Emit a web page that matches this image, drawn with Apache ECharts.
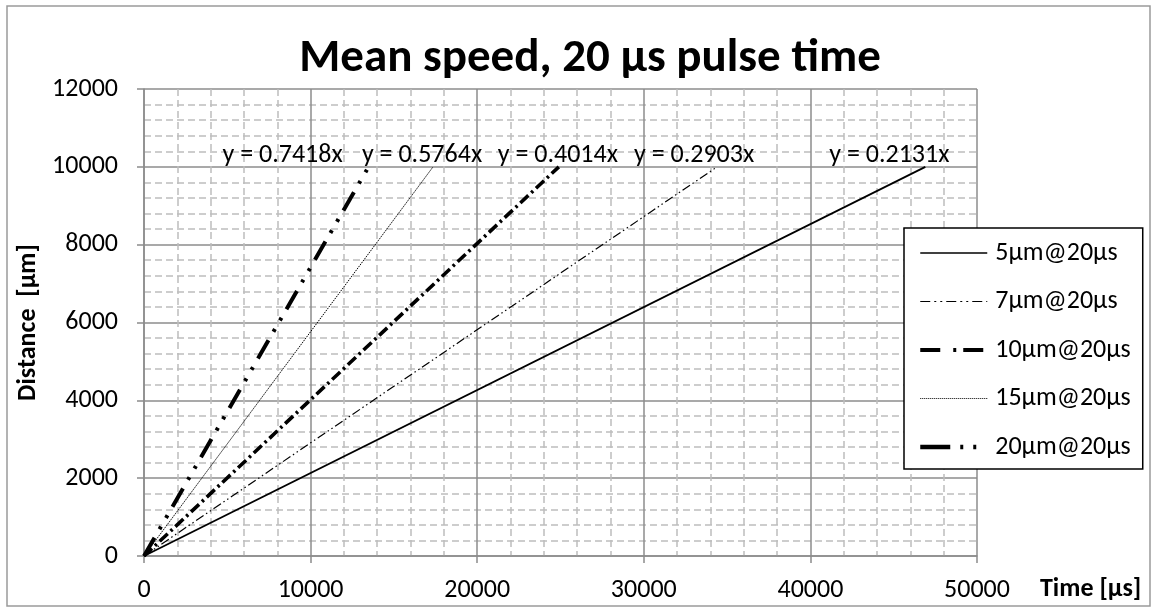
<!DOCTYPE html>
<html><head><meta charset="utf-8">
<script src="https://cdn.jsdelivr.net/npm/echarts@6/dist/echarts.min.js"></script>
<style>html,body{margin:0;padding:0;background:#fff}#c{width:1157px;height:609px}</style>
</head><body><div id="c"></div>
<script>
const seriesNames = ['5µm@20µs','7µm@20µs','10µm@20µs','15µm@20µs','20µm@20µs'];
const slopes = [0.2131, 0.2903, 0.4014, 0.5764, 0.7418];
const line5 = [[0,0],[46900,10000]];
const line7 = [[0,0],[34400,10000]];
const line10 = [[0,0],[24900,10000]];
const line15 = [[0,0],[17350,10000]];
const line20 = [[0,0],[13480,10000]];
const xTicks = [0,10000,20000,30000,40000,50000];
const yTicks = [0,2000,4000,6000,8000,10000,12000];

const FONT = 'Carlito, "Liberation Sans", Arial, sans-serif';
const lines = [line5, line7, line10, line15, line20];
const styles = [
  {width:1.8, type:'solid'},
  {width:1.2, type:[9,3,1.5,3,1.5,3]},
  {width:3.6, type:[11,4,2.5,4]},
  {width:1, type:[1.5,1]},
  {width:4, type:[21,10,3,10,3,10]}
];
const legendStyles = [
  {width:1.5, type:'solid'},
  {width:1.2, type:[10,4,2,4,2,4]},
  {width:4, type:[20,13,3,7]},
  {width:1, type:[1,1]},
  {width:4.5, type:[30,10,3,10,3,20]}
];
const labelOffsets = [[-36,-11],[-23,-11],[-1,-11],[-11,-11],[-86,-11]];

const series = lines.map((d,i)=>({
  name: seriesNames[i],
  type: 'line',
  data: d,
  symbol: 'none',
  silent: true,
  animation: false,
  lineStyle: Object.assign({color:'#000', cap:'butt'}, styles[i]),
  itemStyle: {color:'#000'},
  markPoint: {
    symbol:'circle', symbolSize:1, itemStyle:{color:'rgba(0,0,0,0)'},
    data:[{coord:d[d.length-1], value:slopes[i]}],
    label:{show:true, position:'inside', offset:labelOffsets[i], color:'#000',
      fontFamily:FONT, fontSize:26,
      formatter: p => 'y = ' + slopes[i].toFixed(4) + 'x'}
  }
}));

const chart = echarts.init(document.getElementById('c'));
chart.setOption({
  backgroundColor:'#fff',
  animation:false,
  title:{text:'Mean speed, 20 µs pulse time', left:585, textAlign:'center', top:31,
    textStyle:{fontFamily:FONT, fontSize:47, fontWeight:'bold', color:'#000'}},
  grid:{left:144, right:180, top:89, bottom:53},
  xAxis:{type:'value', min:0, max:50000, interval:10000,
    name:'Time [µs]', nameLocation:'end', nameGap:63,
    nameTextStyle:{fontFamily:FONT, fontSize:26, fontWeight:'bold', color:'#000', verticalAlign:'top', padding:[20,0,0,0]},
    axisLine:{show:true, lineStyle:{color:'#8c8c8c', width:1.5}},
    axisTick:{show:true, length:7, lineStyle:{color:'#8c8c8c', width:1.5}},
    axisLabel:{margin:21, fontFamily:FONT, fontSize:26, color:'#000',
      formatter: v => xTicks.includes(v) ? String(v) : ''},
    splitLine:{show:true, lineStyle:{color:'#8c8c8c', width:1.5}},
    minorTick:{show:false, splitNumber:5},
    minorSplitLine:{show:true, lineStyle:{color:'#bdbdbd', width:1.5, type:[7,4]}}
  },
  yAxis:{type:'value', min:0, max:12000, interval:2000,
    name:'Distance  [µm]', nameLocation:'middle', nameGap:95, nameRotate:90,
    nameTextStyle:{fontFamily:FONT, fontSize:26, fontWeight:'bold', color:'#000'},
    axisLine:{show:true, lineStyle:{color:'#8c8c8c', width:1.5}},
    axisTick:{show:true, length:7, lineStyle:{color:'#8c8c8c', width:1.5}},
    axisLabel:{margin:26, fontFamily:FONT, fontSize:26, color:'#000',
      formatter: v => yTicks.includes(v) ? String(v) : ''},
    splitLine:{show:true, lineStyle:{color:'#8c8c8c', width:1.5}},
    minorTick:{show:false, splitNumber:5},
    minorSplitLine:{show:true, lineStyle:{color:'#bdbdbd', width:1.5, type:[7,4]}}
  },
  legend:{orient:'vertical', left:904, top:228, itemWidth:67, itemHeight:26, itemGap:22.5,
    padding:[12,12,9,14], backgroundColor:'#fff', borderColor:'#000', borderWidth:1.5,
    selectedMode:false,
    itemStyle:{color:'rgba(0,0,0,0)', opacity:0, borderWidth:0},
    textStyle:{fontFamily:FONT, fontSize:26, color:'#000', padding:[0,0,0,3]},
    data: seriesNames.map((n,i)=>({name:n, lineStyle:Object.assign({color:'#000', cap:'butt'}, legendStyles[i])}))},
  graphic:[{type:'rect', shape:{x:7, y:6, width:1143, height:600}, silent:true,
    style:{fill:'none', stroke:'#9a9a9a', lineWidth:1.5}, z:-1}],
  series: series
});
</script></body></html>
